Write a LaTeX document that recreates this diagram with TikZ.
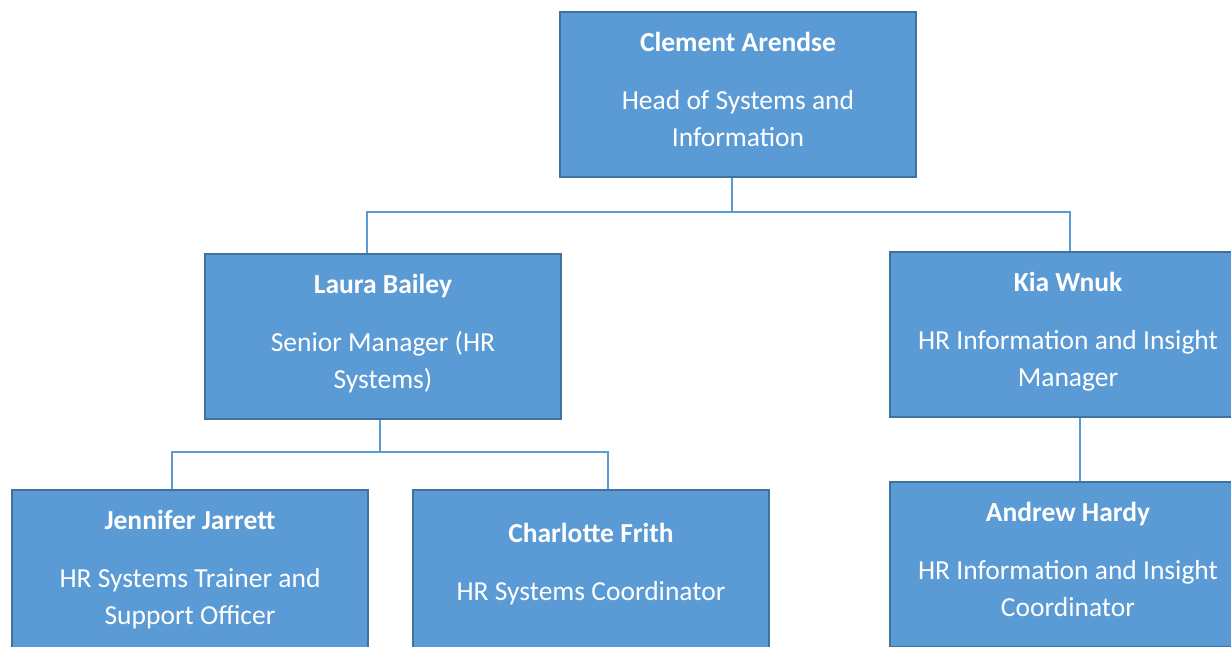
\documentclass[tikz,border=0pt]{standalone}
\usepackage{fontspec}
\setmainfont{Carlito}
\usetikzlibrary{calc}
\definecolor{boxblue}{HTML}{5B9BD5}
\definecolor{boxedge}{HTML}{41719C}
\definecolor{linkblue}{HTML}{5B9BD5}
\tikzset{
	person/.style={draw=boxedge, line width=2.5pt, fill=boxblue, text=white, minimum width=356pt, minimum height=165pt, align=center, inner sep=0pt, font=\fontsize{27.5}{37}\selectfont},
	link/.style={draw=linkblue, line width=1.3pt}
}
\newcommand{\who}[2]{\textbf{#1}\\[21pt]#2\\[-27pt]\mbox{}}

\begin{document}
\begin{tikzpicture}[x=1pt, y=-1pt]
			%%%%% START %%%%%
			\useasboundingbox (0, 0) rectangle (1231, 647);
			\clip (0, 0) rectangle (1231, 647);
			
			\node[person] (ca) at (738, 94.5) {\who{Clement Arendse}{Head of Systems and\\Information}};
			
			\node[person] (lb) at (383, 336.5) {\who{Laura Bailey}{Senior Manager (HR\\Systems)}};
			\node[person] (kw) at (1068, 334.5) {\who{Kia Wnuk}{HR Information and Insight\\Manager}};
			
			\node[person] (jj) at (190, 572.5) {\who{Jennifer Jarrett}{HR Systems Trainer and\\Support Officer}};
			\node[person] (cf) at (591, 572.5) {\who{Charlotte Frith}{HR Systems Coordinator}\\[-25pt]\mbox{}};
			\node[person] (ah) at (1068, 564.5) {\who{Andrew Hardy}{HR Information and Insight\\Coordinator}};
			
			\coordinate (bustop) at (732, 212);
			\coordinate (busmid) at (380, 452);
			
			\draw[link] ([xshift=-6pt]ca.south) -- (bustop);
			\draw[link] ([xshift=-16pt]lb.north) |- (bustop) -| ([xshift=2pt]kw.north);
			
			\draw[link] ([xshift=-3pt]lb.south) -- (busmid);
			\draw[link] ([xshift=-18pt]jj.north) |- (busmid) -| ([xshift=17pt]cf.north);
			
			\draw[link] ([xshift=12pt]kw.south) -- ([xshift=12pt]ah.north);
			%%%%% END %%%%%
\end{tikzpicture}
\end{document}
